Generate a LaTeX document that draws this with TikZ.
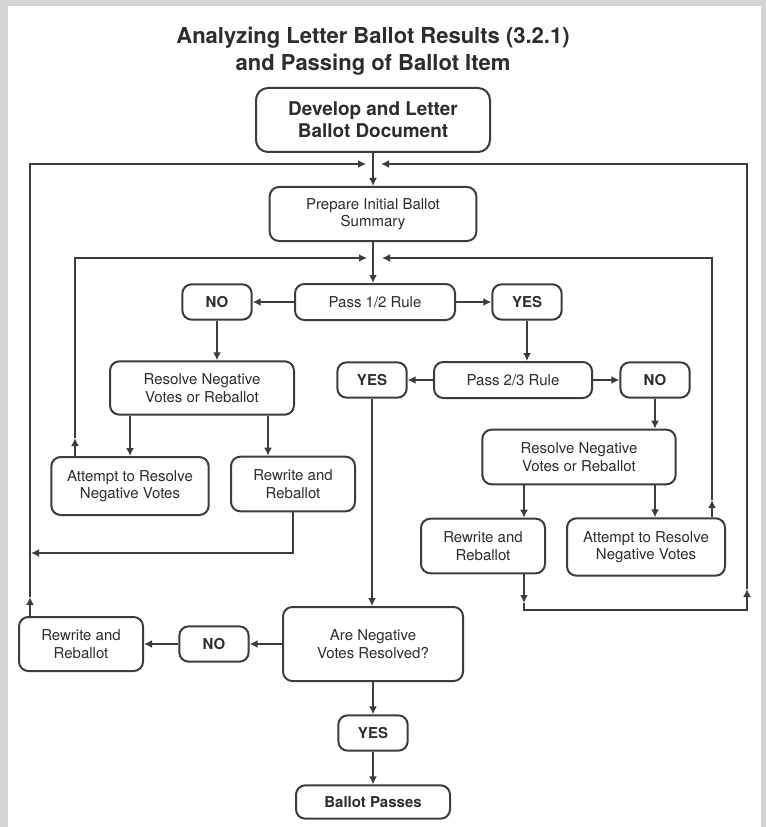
\documentclass[tikz,border=0pt]{standalone}
\usepackage{fontspec}
\setmainfont{TeX Gyre Heros}
\usepackage{tikz}
\usetikzlibrary{arrows.meta}
\definecolor{edgegray}{RGB}{60,60,60}
\definecolor{inkgray}{RGB}{45,45,45}
\definecolor{framegray}{RGB}{212,213,215}
\tikzset{blk/.style={draw=edgegray,line width=1.5pt,rounded corners=7pt,align=center,text=inkgray,inner sep=1pt,font=\fontsize{11.25}{13}\selectfont}}
\tikzset{yn/.style={blk,font=\fontsize{11.25}{13}\selectfont\bfseries,minimum width=52pt,minimum height=26.5pt}}
\tikzset{arr/.style={draw=edgegray,line width=1.5pt,-{Latex[length=6pt,width=6pt]}}}

\begin{document}
\begin{tikzpicture}[x=0.75pt,y=-0.75pt]
\fill[framegray] (0,0) rectangle (766,827);
\fill[white] (8,6) rectangle (761,827);
\useasboundingbox (0,0) rectangle (766,827);

\node[text=inkgray,align=center,font=\fontsize{16.5}{20}\selectfont\bfseries] (ttl) at (373,51) {Analyzing Letter Ballot Results (3.2.1)\\and Passing of Ballot Item};

\node[blk,font=\fontsize{14.2}{16.5}\selectfont\bfseries,minimum width=175.5pt,minimum height=48pt,rounded corners=9pt] (dev) at (373,120) {Develop and Letter\\Ballot Document};
\node[blk,minimum width=155pt,minimum height=40.5pt] (prep) at (373,214) {Prepare Initial Ballot\\Summary};
\node[blk,minimum width=120pt,minimum height=27pt] (half) at (375,302) {Pass 1/2 Rule};
\node[blk,minimum width=138pt,minimum height=40pt] (resL) at (202,388) {Resolve Negative\\Votes or Reballot};
\node[blk,minimum width=118.5pt,minimum height=27pt] (twoth) at (513,380) {Pass 2/3 Rule};
\node[blk,minimum width=118pt,minimum height=43.5pt] (attL) at (130,486) {Attempt to Resolve\\Negative Votes};
\node[blk,minimum width=93pt,minimum height=41pt] (rewL) at (293,484) {Rewrite and\\Reballot};
\node[blk,minimum width=145pt,minimum height=41pt] (resR) at (579,457) {Resolve Negative\\Votes or Reballot};
\node[blk,minimum width=93pt,minimum height=41pt] (rewR) at (483,546) {Rewrite and\\Reballot};
\node[blk,minimum width=118.5pt,minimum height=43pt] (attR) at (646,547) {Attempt to Resolve\\Negative Votes};
\node[blk,minimum width=135pt,minimum height=55.5pt] (arev) at (373,644) {Are Negative\\Votes Resolved?};
\node[blk,minimum width=93pt,minimum height=40.5pt] (rewB) at (81,644) {Rewrite and\\Reballot};
\node[blk,font=\fontsize{11.25}{13}\selectfont\bfseries,minimum width=115.5pt,minimum height=25pt] (pass) at (373,802) {Ballot Passes};

\foreach \n/\x/\y/\t in {noA/217/302/NO,yesA/527/302/YES,yesB/372/380/YES,noB/655/380/NO,noC/214/644/NO,yesC/373/733/YES}
{
	\node[yn] (\n) at (\x,\y) {\t};
}

\coordinate (jAl) at (366,164);
\coordinate (jAr) at (381,164);
\coordinate (jBl) at (367,258);
\coordinate (jBr) at (382,258);
\coordinate (oL) at (30,597);
\coordinate (kL) at (31,553);
\coordinate (iL) at (75,438);
\coordinate (iR) at (712,500);
\coordinate (dR) at (524,603);
\coordinate (cR) at (747,610);
\coordinate (oR) at (747,589);
\coordinate (xa) at (268,0);
\coordinate (xb) at (524,0);
\coordinate (xc) at (655,0);

\draw[arr] (dev) -- (prep);
\draw[arr] (prep.south) -- (prep.south |- half.north);
\draw[arr] (half) -- (noA);
\draw[arr] (half) -- (yesA);
\draw[arr] (noA.south) -- (noA.south |- resL.north);
\draw[arr] (yesA.south) -- (yesA.south |- twoth.north);
\draw[arr] (twoth) -- (yesB);
\draw[arr] (twoth) -- (noB);
\draw[arr] (noB.south) -- (noB.south |- resR.north);
\draw[arr] (resL.south -| attL.north) -- (attL.north);
\draw[arr] (resL.south -| xa) -- (rewL.north -| xa);
\draw[arr] (resR.south -| xb) -- (rewR.north -| xb);
\draw[arr] (resR.south -| xc) -- (attR.north -| xc);
\draw[arr] (yesB.south) -- (yesB.south |- arev.north);
\draw[arr] (arev) -- (noC);
\draw[arr] (noC) -- (rewB);
\draw[arr] (arev.south) -- (arev.south |- yesC.north);
\draw[arr] (yesC) -- (pass);

\draw[arr] (oL |- rewB.north) -- (oL);
\draw[arr] (oL) |- (jAl);
\draw[arr] (rewL.south) |- (kL);
\draw[arr] (iL |- attL.north) -- (iL);
\draw[arr] (iL) |- (jBl);
\draw[arr] (iR |- attR.north) -- (iR);
\draw[arr] (iR) |- (jBr);
\draw[arr] (dR |- rewR.south) -- (dR);
\draw[arr] (dR) |- (cR) -- (oR);
\draw[arr] (oR) |- (jAr);
\end{tikzpicture}
\end{document}
